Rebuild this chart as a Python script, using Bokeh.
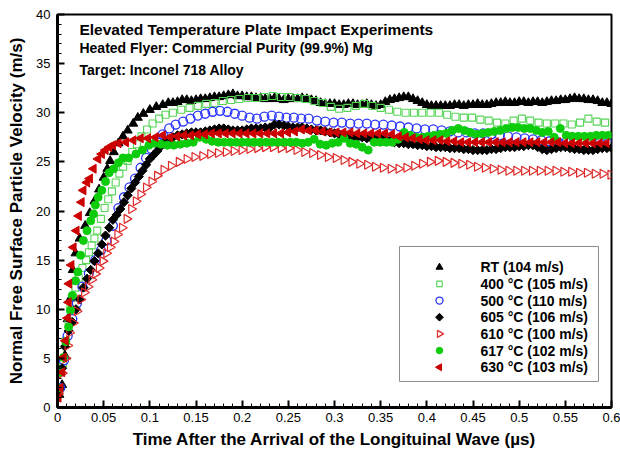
import numpy as np
from bokeh.plotting import figure
from bokeh.models import Range1d, FixedTicker, Label, BoxAnnotation
from bokeh.embed import file_html
from bokeh.resources import INLINE

FONT = "Liberation Sans"

# ---------------- data ----------------
x_ticks = [0, 0.05, 0.1, 0.15, 0.2, 0.25, 0.3, 0.35, 0.4, 0.45, 0.5, 0.55, 0.6]
x_tick_labels = ["0", "0.05", "0.1", "0.15", "0.2", "0.25", "0.3", "0.35", "0.4", "0.45", "0.5", "0.55", "0.6"]
y_ticks = [0, 5, 10, 15, 20, 25, 30, 35, 40]

series_labels = ["RT (104 m/s)", "400 °C (105 m/s)", "500 °C (110 m/s)", "605 °C (106 m/s)",
                 "610 °C (100 m/s)", "617 °C (102 m/s)", "630 °C (103 m/s)"]

# RT
rt_rise_t = [0.002, 0.005, 0.008, 0.011, 0.014, 0.0165, 0.0195, 0.024, 0.030, 0.035, 0.040, 0.045, 0.050,
             0.054, 0.057, 0.061, 0.066, 0.071, 0.076, 0.082, 0.087, 0.093, 0.100, 0.107, 0.114]
rt_rise_v = [1.3, 2.3, 5.3, 9.0, 11.1, 14.0, 15.7, 17.2, 18.5, 19.8, 21.0, 22.2, 23.4,
             24.3, 25.1, 26.0, 26.9, 27.6, 28.2, 28.9, 29.5, 29.9, 30.3, 30.6, 30.8]
rt_t0, rt_dt = 0.12, 0.005
rt_v = [31.0, 31.0, 31.1, 31.3, 31.3, 31.2, 31.3, 31.4, 31.4, 31.5,
        31.6, 31.6, 31.7, 31.8, 31.9, 31.7, 31.7, 31.6, 31.6, 31.5,
        31.5, 31.4, 31.4, 31.5, 31.4, 31.3, 31.4, 31.4, 31.4, 31.5,
        31.4, 31.3, 31.2, 31.0, 30.9, 30.9, 30.9, 30.8, 30.8, 30.9,
        30.9, 30.8, 30.8, 30.9, 30.8, 30.7, 30.8, 31.1, 31.3, 31.4,
        31.5, 31.6, 31.6, 31.4, 31.2, 31.0, 30.8, 30.7, 30.7, 30.7,
        30.7, 30.7, 30.8, 30.8, 30.7, 30.8, 30.8, 30.9, 30.8, 30.8,
        30.9, 31.0, 31.0, 31.1, 31.0, 31.0, 31.1, 31.1, 31.0, 31.1,
        31.1, 31.0, 31.1, 31.2, 31.2, 31.3, 31.3, 31.4, 31.5, 31.4,
        31.4, 31.3, 31.3, 31.2, 31.0, 31.0, 30.9]

# 400 C
c400_rise_t = [0.002, 0.006, 0.009, 0.012, 0.014, 0.017, 0.0195, 0.023, 0.027, 0.031, 0.034, 0.037, 0.040,
               0.043, 0.047, 0.051, 0.055, 0.059, 0.063, 0.067, 0.071, 0.076, 0.081, 0.086, 0.091, 0.097,
               0.103, 0.110, 0.117]
c400_rise_v = [1.8, 4.5, 6.8, 8.8, 10.0, 11.2, 12.2, 13.2, 14.2, 15.0, 15.8, 16.5, 17.2,
               18.0, 19.2, 20.3, 21.2, 22.0, 22.9, 23.8, 24.5, 25.1, 26.0, 26.8, 27.6, 28.3,
               28.9, 29.4, 29.8]
c400_t0, c400_dt = 0.125, 0.009
c400_v = [30.0, 30.3, 30.5, 30.7, 30.9, 31.0, 31.2, 31.3, 31.4, 31.5,
          31.5, 31.6, 31.7, 31.6, 31.6, 31.5, 31.4, 31.2, 31.0, 30.6,
          30.4, 30.5, 30.7, 30.9, 30.7, 30.5, 30.3, 30.1, 30.0, 30.0,
          30.0, 30.0, 30.0, 29.8, 29.6, 29.5, 29.5, 29.3, 29.2, 29.0,
          28.9, 29.2, 29.4, 29.2, 29.0, 28.9, 28.9, 28.9, 28.8, 29.0,
          29.4, 29.1, 29.0]

# 500 C
c500_rise_t = [0.003, 0.007, 0.011, 0.016, 0.021, 0.027, 0.034, 0.041, 0.047, 0.053,
               0.060, 0.066, 0.072, 0.078, 0.084, 0.090, 0.096, 0.102, 0.108, 0.114,
               0.121, 0.128, 0.136, 0.144, 0.152, 0.160, 0.168, 0.176, 0.184, 0.192,
               0.200, 0.208, 0.216, 0.224, 0.232, 0.240, 0.248, 0.256, 0.264, 0.272]
c500_rise_v = [2.0, 4.8, 7.3, 9.0, 10.6, 12.3, 13.7, 15.0, 16.0, 17.0,
               18.5, 20.3, 21.4, 22.4, 23.3, 24.4, 25.4, 26.3, 27.0, 27.8,
               28.4, 28.8, 29.1, 29.4, 29.7, 29.9, 30.1, 30.2, 30.1, 29.9,
               29.7, 29.5, 29.4, 29.6, 29.7, 29.6, 29.5, 29.5, 29.4, 29.4]
c500_t0, c500_dt = 0.281, 0.009
c500_v = [29.2, 29.1, 29.0, 29.0, 28.9, 28.9, 28.9, 28.8, 28.8, 28.7,
          28.6, 28.5, 28.4, 28.3, 28.3, 28.2, 28.1, 28.0, 28.0, 27.9,
          27.9, 27.8, 27.7, 27.6, 27.5, 27.4, 27.3, 27.2, 27.1, 27.0,
          27.0, 27.0, 27.0, 26.9, 26.9, 26.9]

# 605 C
c605_rise_t = [0.002, 0.005, 0.008, 0.012, 0.016, 0.020, 0.024, 0.028, 0.032, 0.036,
               0.040, 0.044, 0.048, 0.052, 0.056, 0.060, 0.064, 0.068, 0.072, 0.076,
               0.080, 0.084, 0.088, 0.092, 0.096, 0.100, 0.104, 0.108, 0.112, 0.116]
c605_rise_v = [1.9, 4.0, 6.2, 7.8, 8.7, 10.0, 11.0, 12.2, 13.1, 14.0,
               14.9, 15.7, 16.6, 17.5, 18.3, 19.1, 19.6, 20.2, 20.9, 21.6,
               22.3, 22.9, 23.5, 24.1, 24.7, 25.3, 25.7, 26.1, 26.6, 27.0]
c605_t0, c605_dt = 0.12, 0.005
c605_v = [27.3, 27.5, 27.7, 27.8, 27.9, 28.0, 28.0, 28.0, 28.1, 28.2,
          28.3, 28.4, 28.4, 28.3, 28.2, 28.2, 28.2, 28.3, 28.4, 28.4,
          28.4, 28.5, 28.5, 28.8, 28.8, 28.7, 28.6, 28.5, 28.5, 28.5,
          28.4, 28.3, 28.2, 28.2, 28.1, 28.0, 27.9, 27.8, 27.7, 27.6,
          27.6, 27.5, 27.5, 27.4, 27.4, 27.4, 27.4, 27.3, 27.2, 27.0,
          26.9, 26.9, 26.8, 26.8, 26.7, 26.7, 26.6, 26.6, 26.5, 26.5,
          26.5, 26.4, 26.4, 26.4, 26.3, 26.3, 26.2, 26.2, 26.2, 26.2,
          26.3, 26.3, 26.4, 26.5, 26.5, 26.5, 26.6, 26.6, 26.7, 26.7,
          26.5, 26.3, 26.2, 26.3, 26.4, 26.5, 26.5, 26.4, 26.3, 26.3,
          26.2, 26.2, 26.2, 26.3, 26.4, 26.4, 26.4]

# 610 C
c610_rise_t = [0.001, 0.005, 0.009, 0.011, 0.013, 0.017, 0.021, 0.025, 0.029, 0.033,
               0.037, 0.041, 0.045, 0.049, 0.053, 0.057, 0.061, 0.065, 0.070, 0.075,
               0.080, 0.085, 0.090, 0.096, 0.102, 0.108, 0.115]
c610_rise_v = [1.4, 3.5, 5.0, 6.3, 7.6, 8.6, 9.8, 11.0, 11.7, 12.3,
               13.0, 13.6, 14.2, 14.9, 15.7, 16.3, 16.9, 17.6, 18.3, 19.2,
               20.2, 21.0, 21.7, 22.4, 23.0, 23.6, 24.2]
c610_t0, c610_dt = 0.123, 0.0085
c610_v = [24.6, 25.0, 25.3, 25.5, 25.6, 25.8, 25.9, 26.0, 26.1, 26.2,
          26.3, 26.4, 26.5, 26.5, 26.4, 26.4, 26.2, 26.0, 25.9, 25.7,
          25.5, 25.4, 25.2, 25.0, 24.8, 24.7, 24.5, 24.4, 24.3, 24.3,
          24.4, 24.6, 24.8, 25.0, 25.1, 25.0, 24.9, 24.8, 24.7, 24.5,
          24.4, 24.3, 24.2, 24.1, 24.1, 24.1, 24.1, 24.1, 24.1, 24.1,
          24.0, 24.0, 23.9, 23.9, 23.8, 23.8, 23.7]

# 617 C
c617_rise_t = [0.001, 0.003, 0.0065, 0.009, 0.012, 0.014, 0.016, 0.0195, 0.022, 0.025,
               0.028, 0.032, 0.036, 0.039, 0.041, 0.044, 0.048, 0.052, 0.056, 0.061,
               0.066, 0.071, 0.077, 0.085, 0.092, 0.099, 0.105, 0.112, 0.119, 0.126,
               0.133, 0.140, 0.147, 0.154]
c617_rise_v = [2.0, 3.6, 5.1, 6.7, 8.2, 9.9, 11.4, 12.9, 13.8, 15.5,
               17.0, 18.0, 19.0, 19.7, 20.6, 21.4, 22.1, 23.0, 23.9, 24.3,
               24.9, 25.4, 25.4, 25.8, 26.2, 26.7, 26.9, 26.8, 26.7, 26.7,
               26.8, 26.9, 27.0, 27.5]
c617_t0, c617_dt = 0.161, 0.0065
c617_v = [27.3, 27.1, 27.0, 27.0, 27.0, 27.0, 27.0, 27.0, 27.0, 27.0,
          27.0, 27.0, 27.0, 27.0, 27.0, 27.0, 26.9, 27.0, 27.3, 26.8,
          26.7, 26.9, 27.0, 27.4, 26.9, 26.8, 26.5, 26.2, 27.0, 27.0,
          27.0, 27.0, 27.3, 28.0, 27.7, 27.5, 27.5, 27.6, 27.7, 27.8,
          27.9, 28.2, 28.4, 28.2, 28.0, 27.8, 27.9, 28.0, 28.1, 28.2,
          28.4, 28.5, 28.5, 28.4, 28.4, 28.2, 28.0, 28.1, 27.5, 28.4,
          27.7, 27.6, 27.6, 27.6, 27.6, 27.7, 27.7, 27.7]

# 630 C
c630_rise_t = [0.001, 0.003, 0.005, 0.0065, 0.0087, 0.011, 0.012, 0.0125, 0.015, 0.0173,
               0.0205, 0.023, 0.026, 0.028, 0.032, 0.035, 0.039, 0.044, 0.048, 0.052,
               0.056, 0.060, 0.066, 0.074, 0.082, 0.090, 0.098, 0.106, 0.114]
c630_rise_v = [1.0, 2.0, 3.6, 5.1, 6.8, 9.1, 10.7, 12.6, 14.5, 16.3,
               18.0, 19.5, 20.9, 22.1, 22.9, 23.3, 24.3, 25.3, 25.8, 26.2,
               26.5, 26.7, 26.9, 27.0, 27.2, 27.4, 27.4, 27.5, 27.7]
c630_t0, c630_dt = 0.122, 0.0075
c630_v = [27.5, 27.6, 27.7, 27.7, 27.8, 27.8, 27.9, 27.9, 27.9, 27.9,
          27.9, 27.9, 27.9, 27.9, 27.9, 27.9, 27.9, 28.0, 28.1, 28.3,
          28.2, 28.2, 28.1, 28.0, 28.0, 28.0, 28.0, 27.9, 27.9, 27.9,
          27.9, 27.9, 27.8, 27.6, 27.5, 27.4, 27.3, 27.2, 27.2, 27.2,
          27.1, 27.1, 27.0, 27.0, 27.0, 27.0, 27.0, 27.0, 27.0, 27.0,
          27.0, 27.0, 27.0, 27.0, 27.0, 27.0, 27.0, 26.9, 26.9, 26.9,
          26.9, 26.9, 26.9, 26.9]


def series(rise_t, rise_v, t0, dt, vals):
    t = list(rise_t) + [round(t0 + dt * i, 5) for i in range(len(vals))]
    v = list(rise_v) + list(vals)
    return t, v


data = [
    series(rt_rise_t, rt_rise_v, rt_t0, rt_dt, rt_v),
    series(c400_rise_t, c400_rise_v, c400_t0, c400_dt, c400_v),
    series(c500_rise_t, c500_rise_v, c500_t0, c500_dt, c500_v),
    series(c605_rise_t, c605_rise_v, c605_t0, c605_dt, c605_v),
    series(c610_rise_t, c610_rise_v, c610_t0, c610_dt, c610_v),
    series(c617_rise_t, c617_rise_v, c617_t0, c617_dt, c617_v),
    series(c630_rise_t, c630_rise_v, c630_t0, c630_dt, c630_v),
]

# ---------------- styles ----------------
styles = [
    dict(marker="triangle", size=9, lsize=7, fill_color="black", line_color="black", angle=0.0, line_width=1),
    dict(marker="square", size=7, lsize=5.5, fill_color=None, line_color="#55d455", angle=0.0, line_width=1.1),
    dict(marker="circle", size=9, lsize=7, fill_color=None, line_color="#2a35ff", angle=0.0, line_width=1.3),
    dict(marker="square", size=6.5, lsize=5.5, fill_color="black", line_color="black", angle=np.pi / 4, line_width=1),
    dict(marker="triangle", size=9, lsize=7, fill_color=None, line_color="#e02a2a", angle=-np.pi / 2, line_width=1.2),
    dict(marker="circle", size=8, lsize=6.5, fill_color="#0ccc0c", line_color="#0ccc0c", angle=0.0, line_width=1),
    dict(marker="triangle", size=9, lsize=7, fill_color="#cc0000", line_color="#cc0000", angle=np.pi / 2, line_width=1),
]

p = figure(width=620, height=455, x_range=Range1d(0, 0.6), y_range=Range1d(0, 40),
           output_backend="svg", toolbar_location=None,
           min_border_left=57, min_border_right=9, min_border_top=14, min_border_bottom=48)
p.background_fill_color = "white"
p.border_fill_color = "white"
p.outline_line_color = "black"
p.outline_line_width = 2
p.xgrid.visible = False
p.ygrid.visible = False

for (t, v), st in zip(data, styles):
    p.scatter(t, v, marker=st["marker"], size=st["size"], fill_color=st["fill_color"],
              line_color=st["line_color"], line_width=st["line_width"], angle=st["angle"])

xa = p.xaxis[0]
ya = p.yaxis[0]
xa.ticker = FixedTicker(ticks=x_ticks, minor_ticks=[i / 100 for i in range(61)])
ya.ticker = FixedTicker(ticks=y_ticks, minor_ticks=list(range(41)))
xa.major_label_overrides = {tk: lb for tk, lb in zip(x_ticks, x_tick_labels)}
for ax in (xa, ya):
    ax.axis_line_width = 3
    ax.axis_line_color = "black"
    ax.major_tick_in = 7
    ax.major_tick_out = 0
    ax.minor_tick_in = 4
    ax.minor_tick_out = 0
    ax.major_tick_line_width = 2
    ax.minor_tick_line_width = 1
    ax.major_label_text_font = FONT
    ax.major_label_text_font_size = "13px"
    ax.major_label_text_color = "black"
    ax.axis_label_text_font = FONT
    ax.axis_label_text_font_size = "17px"
    ax.axis_label_text_font_style = "bold"
    ax.axis_label_text_color = "black"
xa.axis_label = "Time After the Arrival of the Longituinal Wave (µs)"
ya.axis_label = "Normal Free Surface Particle Velocity (m/s)"
xa.major_label_standoff = 5
xa.axis_label_standoff = 5
ya.major_label_standoff = 7
ya.axis_label_standoff = 7

# title texts inside the plot
for txt, yy, fs in [("Elevated Temperature Plate Impact Experiments", 38.5, "15.5px"),
                    ("Heated Flyer: Commercial Purity (99.9%) Mg", 36.55, "14px"),
                    ("Target: Inconel 718 Alloy", 34.4, "14px")]:
    p.add_layout(Label(x=0.0238, y=yy, text=txt, text_font=FONT, text_font_size=fs,
                       text_font_style="bold", text_baseline="middle", text_color="black"))

# ---------------- legend (box, symbols, labels) ----------------
LEG_LEFT, LEG_RIGHT, LEG_TOP, LEG_BOTTOM = 0.3704, 0.5859, 16.39, 2.65
LEG_SYM_X, LEG_TXT_X, LEG_ROW0, LEG_DROW = 0.4137, 0.4581, 14.28, 1.697

p.add_layout(BoxAnnotation(left=LEG_LEFT, right=LEG_RIGHT, top=LEG_TOP, bottom=LEG_BOTTOM,
                           fill_color="white", fill_alpha=1.0, line_color="#8c8c8c",
                           line_width=1, line_alpha=1.0, level="annotation"))
for k, (st, lab) in enumerate(zip(styles, series_labels)):
    yy = LEG_ROW0 - k * LEG_DROW
    r = p.scatter([LEG_SYM_X], [yy], marker=st["marker"], size=st["lsize"], fill_color=st["fill_color"],
                  line_color=st["line_color"], line_width=st["line_width"], angle=st["angle"])
    r.level = "overlay"
    p.add_layout(Label(x=LEG_TXT_X, y=yy, text=lab, text_font=FONT, text_font_size="14px",
                       text_font_style="bold", text_baseline="middle", text_color="black",
                       level="overlay"))

open("out.html", "w").write(file_html(p, INLINE))
